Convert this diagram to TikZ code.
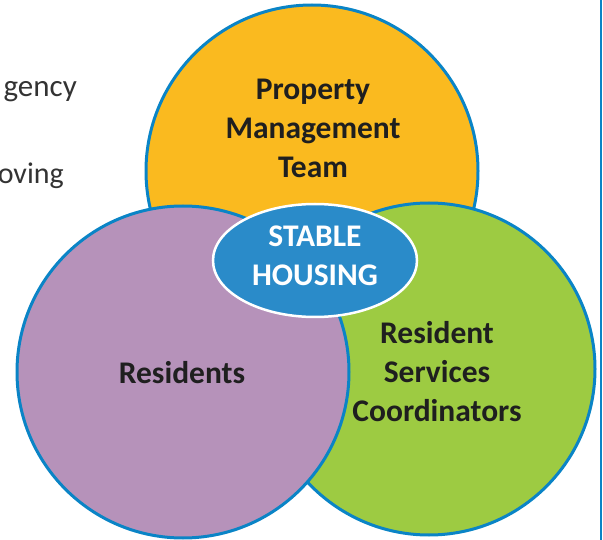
\documentclass[tikz,border=0pt]{standalone}
\usepackage{fontspec}
\setmainfont{Carlito}
\usepackage{xcolor}
\usepackage{tikz}
\usetikzlibrary{shapes.geometric,positioning}

\definecolor{ringblue}{HTML}{0A84C6}
\definecolor{mgmtorange}{HTML}{FABA1F}
\definecolor{respurple}{HTML}{B692BA}
\definecolor{rscgreen}{HTML}{9DCB42}
\definecolor{hubblue}{HTML}{2A8BC9}
\definecolor{bodygray}{HTML}{333333}

\begin{document}
\begin{tikzpicture}[
        x=1pt, y=-1pt,
        group/.style={circle, draw=ringblue, line width=3pt, minimum size=332pt, inner sep=0pt},
        label/.style={text=black!88, font=\fontsize{31.5}{39}\selectfont\bfseries, align=center, inner sep=0pt},
        hub/.style={ellipse, draw=white, line width=2.5pt, fill=hubblue, minimum width=204pt, minimum height=113pt, inner sep=0pt},
        side/.style={text=bodygray, font=\fontsize{31}{36}\selectfont, inner sep=0pt, anchor=base east}
    ]
    \useasboundingbox (0,0) rectangle (603,540);

    % Cut-off body text
    \node[side] (agency) at (77,97) {gency};
    \node[side, font=\fontsize{30}{36}\selectfont] (moving) at (64,184) {oving};

    % Page rule
    \draw[ringblue, line width=2pt] (601,0) -- (601,540);

    % Circles
    \node[group, fill=mgmtorange] (mgmt) at (312,171) {};
    \node[group, fill=rscgreen] (rsc) at (429,369) {};
    \node[group, fill=respurple] (res) at (183,372) {};

    % Centre
    \node[hub] (hub) at (315,260.5) {};

    % Labels
    \node[label] (mgmttext) at (313,128) {Property\\Management\\Team};
    \node[label, anchor=base] (restext) at (182,383) {Residents};
    \node[label] (rsctext) at (437,372) {Resident\\Services\\Coordinators};
    \node[label, text=white] (hubtext) at (315,256) {STABLE\\HOUSING};

\end{tikzpicture}
\end{document}
